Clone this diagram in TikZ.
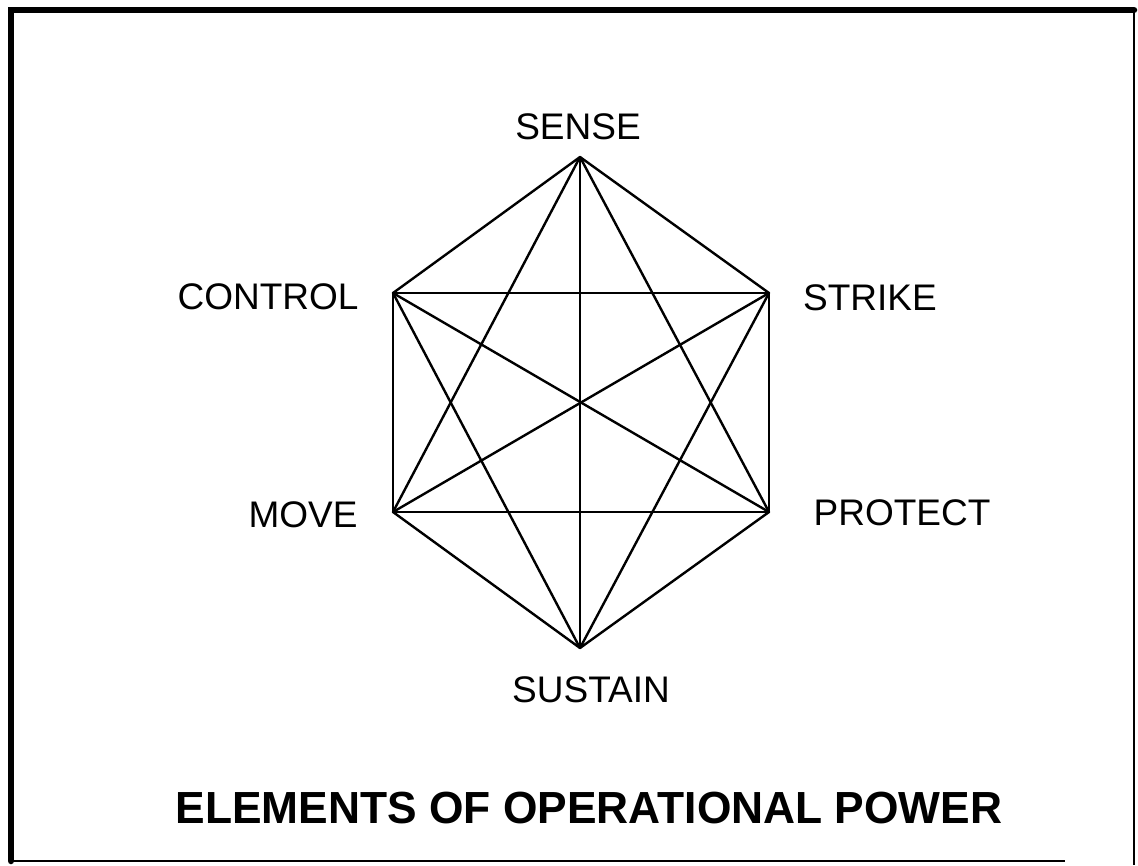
\documentclass[tikz,border=0pt]{standalone}
\usepackage{fontspec}
\setmainfont{Liberation Sans}
\begin{document}
\begin{tikzpicture}[x=1pt,y=-1pt,
  edge/.style={line width=2.4pt,line join=round,line cap=round},
  lbl/.style={inner sep=0pt,anchor=base,font=\fontsize{37}{40}\selectfont},
  ttl/.style={inner sep=0pt,anchor=base,font=\fontsize{45}{50}\selectfont\bfseries,xscale=0.985}]
\useasboundingbox (0,0) rectangle (1138,865);
% frame
\draw[line width=6.5pt,line cap=round] (11,861) -- (11,10) -- (1134,10);
\draw[line width=2.5pt] (1134,10) -- (1134,865);
\draw[line width=2.5pt] (11,861) -- (1065,861);
% vertices
\coordinate (se) at (580,157);
\coordinate (st) at (769,293);
\coordinate (pr) at (769,512);
\coordinate (su) at (580,648);
\coordinate (mo) at (393,512);
\coordinate (co) at (393,293);
% edges (complete graph)
\foreach \a/\b in {se/st,st/pr,pr/su,su/mo,mo/co,co/se,
                   se/su,co/pr,st/mo,
                   se/mo,se/pr,co/st,co/su,st/su,mo/pr}
  \draw[edge] (\a) -- (\b);
% labels
\node[lbl] (lse) at (578,139) {SENSE};
\node[lbl] (lco) at (268,309) {CONTROL};
\node[lbl] (lst) at (870,310) {STRIKE};
\node[lbl] (lmo) at (303,527) {MOVE};
\node[lbl] (lpr) at (902,525) {PROTECT};
\node[lbl] (lsu) at (591,702) {SUSTAIN};
\node[ttl] (title) at (589,823) {ELEMENTS OF OPERATIONAL POWER};
\end{tikzpicture}
\end{document}
